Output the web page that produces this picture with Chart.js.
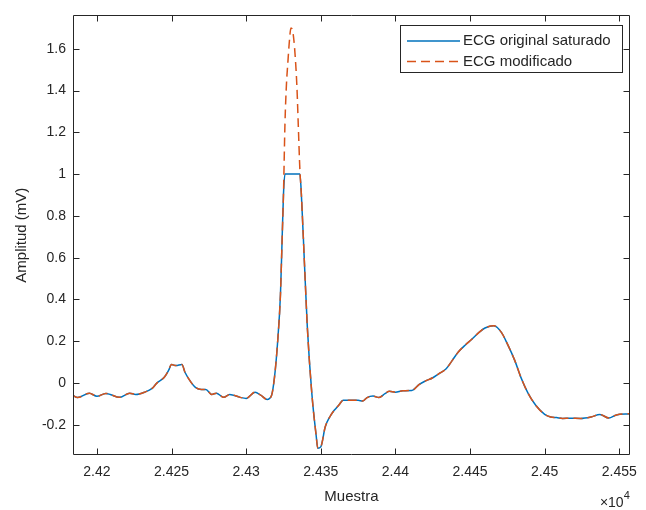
<!DOCTYPE html>
<html>
<head>
<meta charset="utf-8">
<script src="https://cdn.jsdelivr.net/npm/chart.js@4.4.0/dist/chart.umd.min.js"></script>
<style>
  html, body { margin: 0; padding: 0; background: #fff; }
</style>
</head>
<body>
<canvas id="ecgChart" width="646" height="510"></canvas>
<script>
// Muestras y amplitudes (mV)
const muestras = [
  24184, 24187, 24195, 24200, 24206, 24209, 24215, 24222, 24226, 24232,
  24237, 24240, 24245, 24248, 24250, 24253, 24257, 24259, 24263, 24266,
  24270, 24273, 24277, 24280, 24285, 24289, 24296, 24300, 24306, 24310,
  24314, 24317, 24319, 24321, 24323, 24324, 24325, 24326, 24336, 24337,
  24339, 24341, 24344, 24347, 24348, 24350, 24353, 24356, 24359, 24362,
  24365, 24368, 24372, 24375, 24378, 24381, 24385, 24389, 24393, 24396,
  24400, 24405, 24411, 24416, 24420, 24425, 24429, 24434, 24438, 24442,
  24447, 24451, 24456, 24460, 24466, 24471, 24475, 24480, 24484, 24489,
  24494, 24500, 24504, 24508, 24512, 24517, 24524, 24531, 24537, 24543,
  24548, 24557
];
const ecgSaturado = [
  -0.060, -0.070, -0.049, -0.064, -0.050, -0.055, -0.069, -0.049, -0.055, -0.044,
  -0.026, -0.002, 0.026, 0.060, 0.088, 0.083, 0.088, 0.051, 0.004, -0.021,
  -0.031, -0.031, -0.055, -0.049, -0.069, -0.055, -0.069, -0.074, -0.044, -0.060,
  -0.079, -0.060, 0.028, 0.188, 0.426, 0.664, 0.902, 1.0, 1.0, 0.902,
  0.583, 0.266, -0.050, -0.258, -0.313, -0.306, -0.210, -0.163, -0.131, -0.107,
  -0.083, -0.083, -0.083, -0.083, -0.087, -0.070, -0.063, -0.070, -0.051, -0.040,
  -0.044, -0.037, -0.036, -0.007, 0.009, 0.025, 0.044, 0.068, 0.107, 0.147,
  0.183, 0.208, 0.242, 0.263, 0.274, 0.242, 0.187, 0.107, 0.028, -0.051,
  -0.107, -0.150, -0.163, -0.166, -0.170, -0.169, -0.170, -0.163, -0.151, -0.168,
  -0.153, -0.147
];
// Pico reconstruido en la zona saturada
const picoMuestras = [24326, 24327, 24328, 24329, 24330, 24331, 24332, 24333, 24334, 24335, 24336];
const picoValores = [1.24, 1.43, 1.54, 1.64, 1.70, 1.69, 1.64, 1.55, 1.42, 1.22, 1.02];

const xTicks = [24200, 24250, 24300, 24350, 24400, 24450, 24500, 24550];
const yTicks = [-0.2, 0, 0.2, 0.4, 0.6, 0.8, 1, 1.2, 1.4, 1.6];
const etiquetas = ['ECG original saturado', 'ECG modificado'];

const AZUL = '#0072BD';
const NARANJA = '#D95319';
const EJE = '#262626';
const FUENTE = '"Liberation Sans", Arial, Helvetica, sans-serif';

const puntosSaturado = muestras.map((m, i) => ({ x: m, y: ecgSaturado[i] }));
const puntosModificado = puntosSaturado
    .filter(p => p.y < 1)
    .concat(picoMuestras.map((m, i) => ({ x: m, y: picoValores[i] })))
    .sort((a, b) => a.x - b.x);

// Caja, marcas hacia dentro, leyenda y textos de ejes al estilo MATLAB
const marcoMatlab = {
    id: 'marcoMatlab',
    afterDraw(chart) {
        const { ctx, chartArea: a, scales } = chart;
        const L = Math.round(a.left) + 0.5, R = Math.round(a.right) - 0.5;
        const T = Math.round(a.top) + 0.5, B = Math.round(a.bottom) - 0.5;
        const tick = 6;
        ctx.save();
        ctx.strokeStyle = EJE;
        ctx.lineWidth = 1;
        ctx.beginPath();
        ctx.rect(L, T, R - L, B - T);
        xTicks.forEach(v => {
            const px = Math.round(scales.x.getPixelForValue(v)) + 0.5;
            ctx.moveTo(px, B); ctx.lineTo(px, B - tick);
            ctx.moveTo(px, T); ctx.lineTo(px, T + tick);
        });
        yTicks.forEach(v => {
            const py = Math.round(scales.y.getPixelForValue(v)) + 0.5;
            ctx.moveTo(L, py); ctx.lineTo(L + tick, py);
            ctx.moveTo(R, py); ctx.lineTo(R - tick, py);
        });
        ctx.stroke();

        // leyenda
        const lx = 400.5, ly = 25.5, lw = 222, lh = 47;
        ctx.fillStyle = '#fff';
        ctx.fillRect(lx, ly, lw, lh);
        ctx.strokeRect(lx, ly, lw, lh);
        const filas = [ly + 15.5, ly + 36];
        ctx.lineWidth = 1.5;
        ctx.strokeStyle = AZUL;
        ctx.beginPath(); ctx.moveTo(407, filas[0]); ctx.lineTo(460, filas[0]); ctx.stroke();
        ctx.strokeStyle = NARANJA;
        ctx.setLineDash([9, 5]);
        ctx.beginPath(); ctx.moveTo(407, filas[1]); ctx.lineTo(460, filas[1]); ctx.stroke();
        ctx.setLineDash([]);
        ctx.fillStyle = EJE;
        ctx.font = '15px ' + FUENTE;
        ctx.textAlign = 'left';
        ctx.textBaseline = 'middle';
        etiquetas.forEach((t, i) => ctx.fillText(t, 463, filas[i]));

        // títulos de ejes
        ctx.font = '15px ' + FUENTE;
        ctx.textAlign = 'center';
        ctx.fillText('Muestra', (a.left + a.right) / 2, 497);
        ctx.save();
        ctx.translate(22, (a.top + a.bottom) / 2);
        ctx.rotate(-Math.PI / 2);
        ctx.fillText('Amplitud (mV)', 0, 0);
        ctx.restore();

        // factor de escala del eje x
        ctx.textAlign = 'right';
        ctx.textBaseline = 'alphabetic';
        ctx.font = '11px ' + FUENTE;
        ctx.fillText('4', a.right, 499);
        const w4 = ctx.measureText('4').width;
        ctx.font = '14px ' + FUENTE;
        ctx.fillText('\u00d710', a.right - w4, 507);
        ctx.restore();
    }
};

new Chart(document.getElementById('ecgChart'), {
    type: 'line',
    data: {
        datasets: [{
            label: etiquetas[0],
            data: puntosSaturado,
            borderColor: AZUL,
            borderWidth: 1.5,
            pointRadius: 0,
            order: 2
        }, {
            label: etiquetas[1],
            data: puntosModificado,
            borderColor: NARANJA,
            borderWidth: 1.5,
            borderDash: [9, 5],
            pointRadius: 0,
            order: 1
        }]
    },
    options: {
        responsive: false,
        animation: false,
        cubicInterpolationMode: 'monotone',
        layout: { padding: { left: 0, right: 9, top: 13, bottom: 0 } },
        plugins: { legend: { display: false }, tooltip: { enabled: false } },
        scales: {
            x: {
                type: 'linear',
                min: 24184,
                max: 24557,
                grid: { display: false, drawTicks: false },
                border: { display: false },
                afterBuildTicks: axis => { axis.ticks = xTicks.map(v => ({ value: v })); },
                afterFit: axis => { axis.height = 55; },
                ticks: {
                    autoSkip: false,
                    maxRotation: 0,
                    padding: 9,
                    color: EJE,
                    font: { family: FUENTE, size: 14 },
                    callback: v => String(+(v / 1e4).toFixed(4))
                }
            },
            y: {
                min: -0.345,
                max: 1.76,
                grid: { display: false, drawTicks: false },
                border: { display: false },
                afterBuildTicks: axis => { axis.ticks = yTicks.map(v => ({ value: v })); },
                afterFit: axis => { axis.width = 73; },
                ticks: {
                    padding: 7,
                    color: EJE,
                    font: { family: FUENTE, size: 14 },
                    callback: v => String(+v.toFixed(1))
                }
            }
        }
    },
    plugins: [marcoMatlab]
});
</script>
</body>
</html>
